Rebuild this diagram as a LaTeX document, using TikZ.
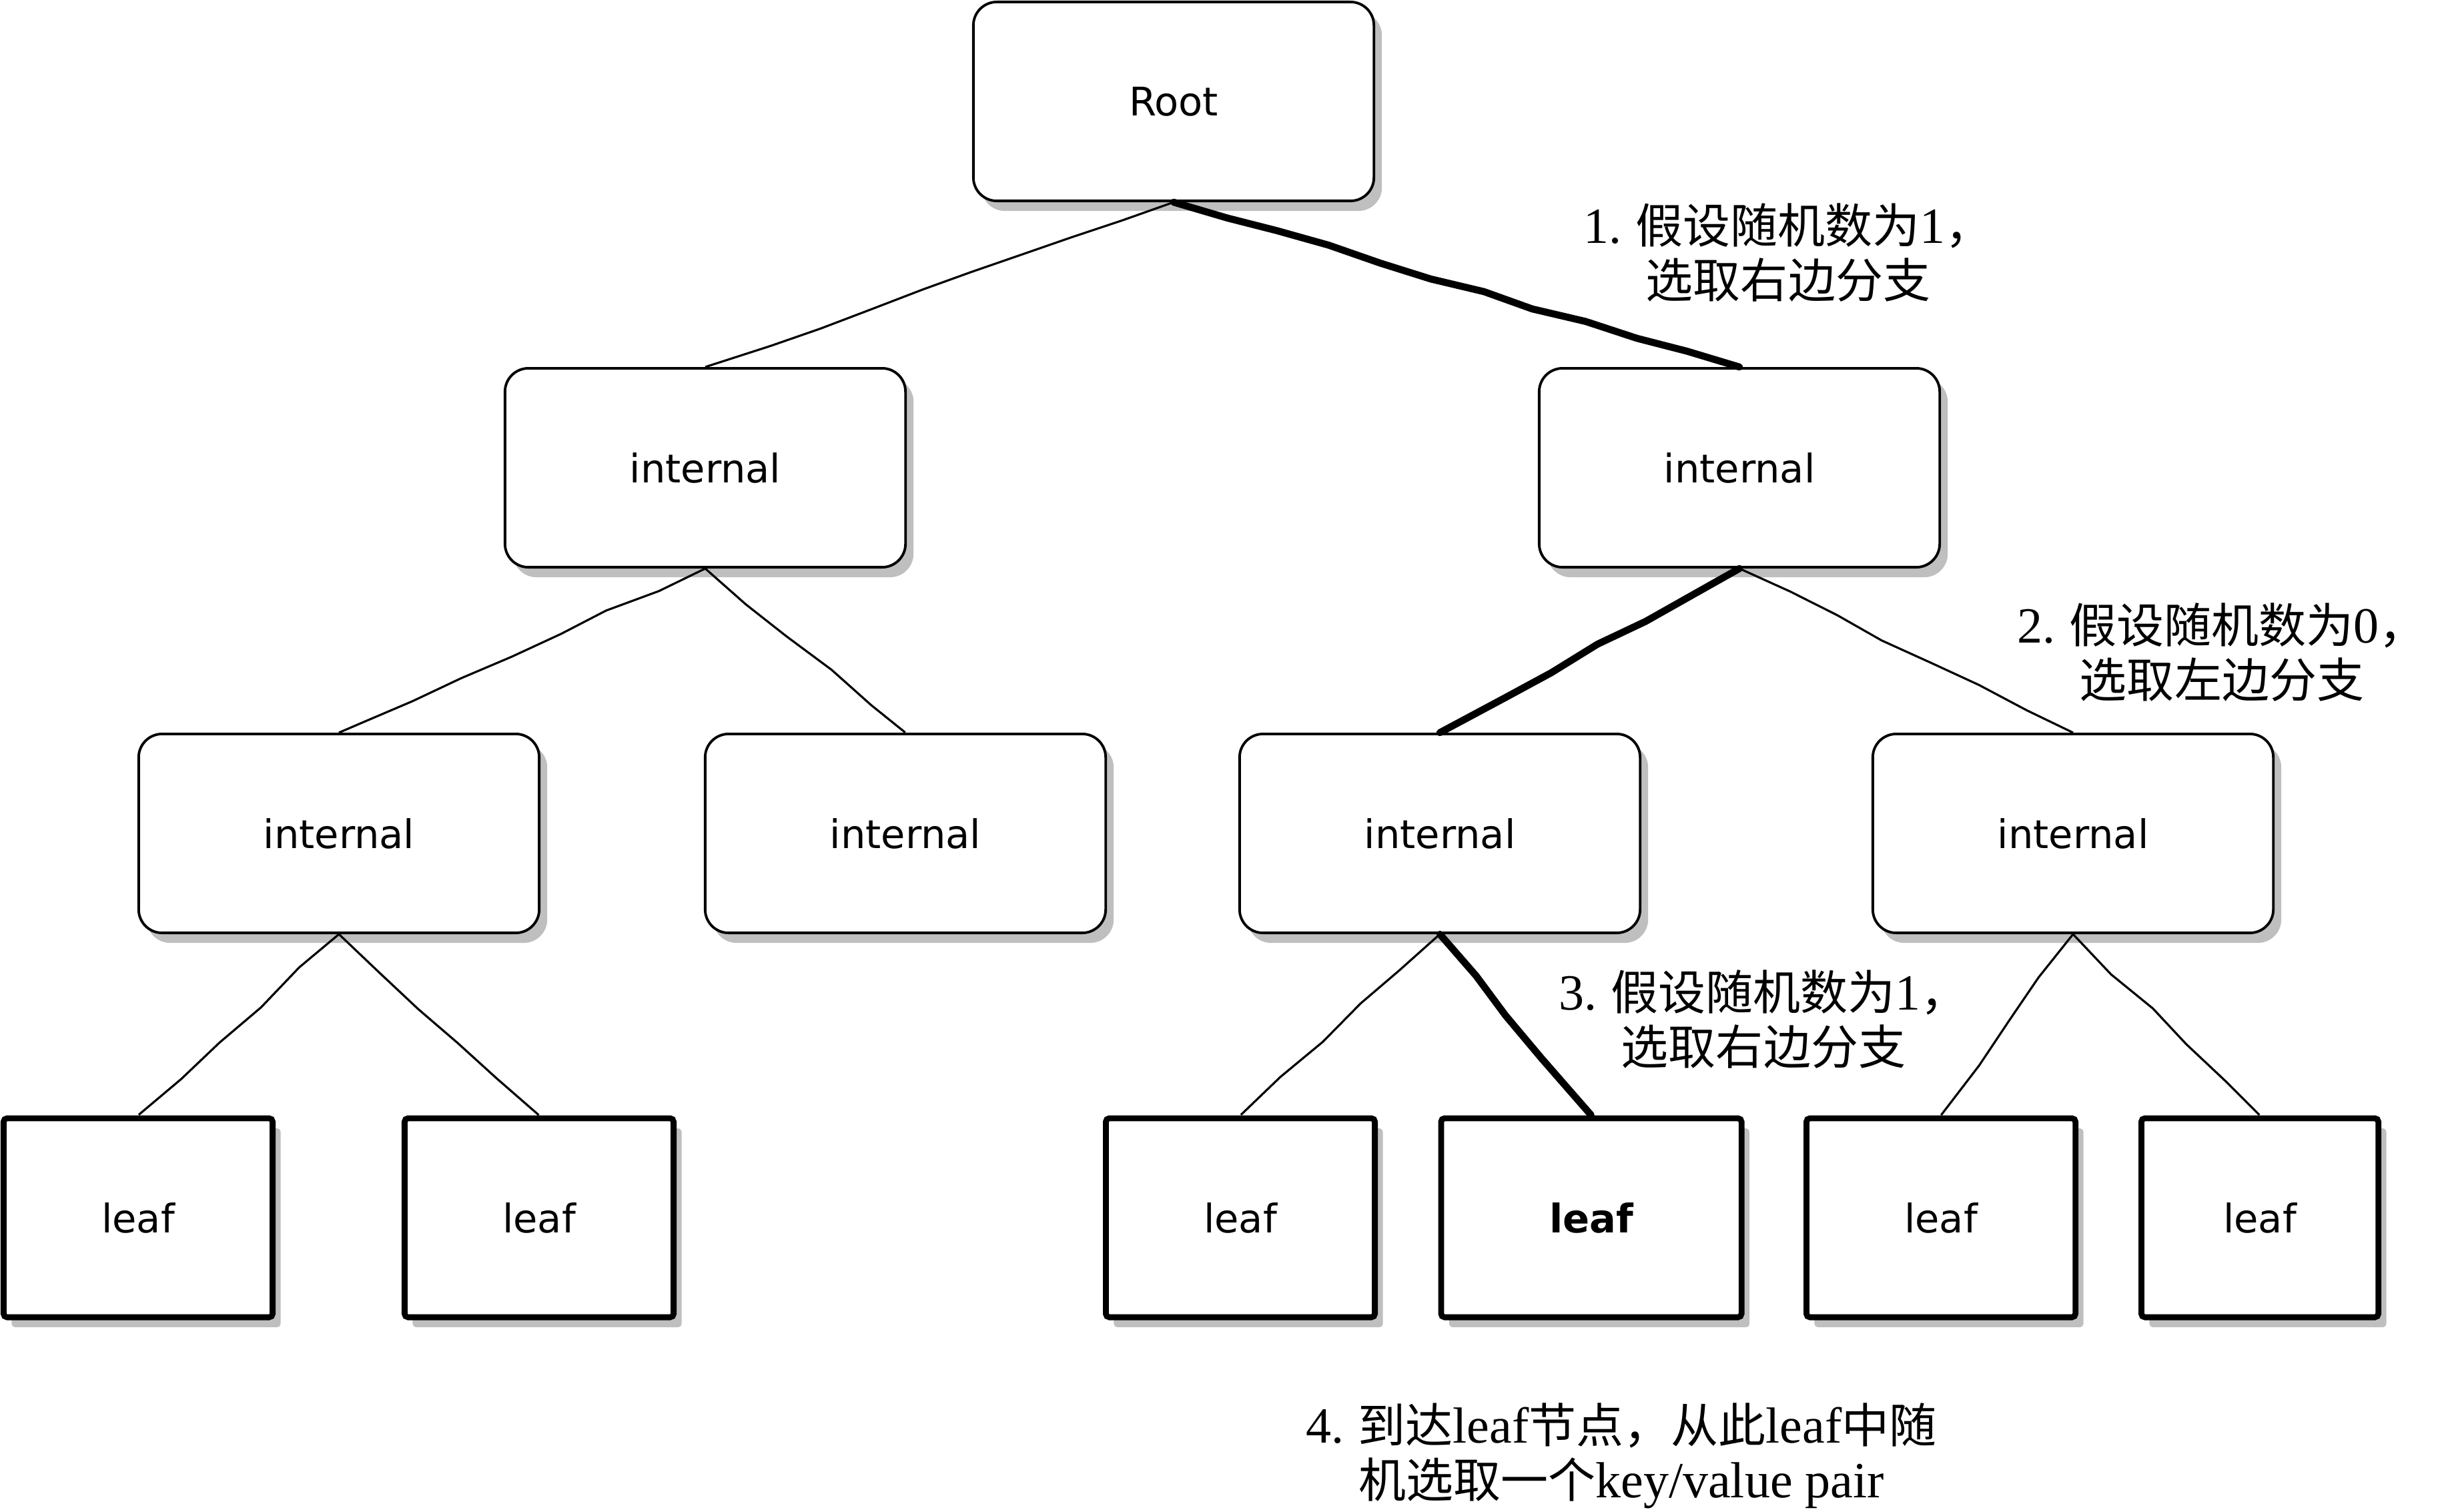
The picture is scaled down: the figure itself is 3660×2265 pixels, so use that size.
\documentclass[tikz,border=0pt]{standalone}
\usepackage{fontspec}
\setmainfont{DejaVu Sans}
\newfontfamily\cjk{Noto Sans CJK SC}
\newfontfamily\lat[Scale=1.07]{Liberation Serif}
\usetikzlibrary{shadows,decorations.pathmorphing}

\begin{document}
\begin{tikzpicture}[
  x=0.01cm, y=-0.01cm,
  sketch/.style={decorate,decoration={random steps,segment length=0.8cm,amplitude=1.1pt}},
  shade/.style={drop shadow={shadow xshift=0.12cm,shadow yshift=-0.15cm,fill=black!25,opacity=1}},
  inbox/.style={draw,shade,rounded corners=10pt,line width=1.1pt,fill=white,
    minimum width=6cm,minimum height=2.98cm,font=\fontsize{16.8}{20}\selectfont},
  leafbox/.style={draw,shade,rounded corners=1.5pt,line width=2.5pt,fill=white,
    minimum width=4.03cm,minimum height=2.98cm,font=\fontsize{16.8}{20}\selectfont},
  link/.style={sketch,line width=0.9pt},
  chosen/.style={sketch,line width=3pt,line cap=round,line join=round},
  note/.style={align=center,font=\cjk\fontsize{20.2}{23.3}\selectfont}
]
\pgfmathsetseed{11}
\useasboundingbox (0,0) rectangle (3660,2265);

% tree nodes
\node[inbox] (root) at (1759,152) {Root};
\node[inbox] (inA) at (1057,701) {internal};
\node[inbox] (inB) at (2607,701) {internal};
\node[inbox] (inC) at (508,1249) {internal};
\node[inbox] (inD) at (1357,1249) {internal};
\node[inbox] (inE) at (2158,1249) {internal};
\node[inbox] (inF) at (3107,1249) {internal};

\node[leafbox] (lfA) at (207,1825) {leaf};
\node[leafbox] (lfB) at (808,1825) {leaf};
\node[leafbox] (lfC) at (1859,1825) {leaf};
\node[leafbox,minimum width=4.5cm,font=\fontsize{16.8}{20}\selectfont\bfseries] (lfD) at (2385,1825) {leaf};
\node[leafbox] (lfE) at (2909,1825) {leaf};
\node[leafbox,minimum width=3.55cm] (lfF) at (3387,1825) {leaf};

% branches
\draw[link] (root.south) -- (inA.north);
\draw[chosen] (root.south) -- (inB.north);
\draw[link] (inA.south) -- (inC.north);
\draw[link] (inA.south) -- (inD.north);
\draw[chosen] (inB.south) -- (inE.north);
\draw[link] (inB.south) -- (inF.north);
\draw[link] (inC.south) -- (lfA.north);
\draw[link] (inC.south) -- (lfB.north);
\draw[link] (inE.south) -- (lfC.north);
\draw[chosen] (inE.south) -- (lfD.north);
\draw[link] (inF.south) -- (lfE.north);
\draw[link] (inF.south) -- (lfF.north);

% notes
\node[note] (stepA) at (2680,379) {{\lat 1.} 假设随机数为{\lat 1}，\\选取右边分支};
\node[note] (stepB) at (3330,978) {{\lat 2.} 假设随机数为{\lat 0}，\\选取左边分支};
\node[note] (stepC) at (2643,1528) {{\lat 3.} 假设随机数为{\lat 1}，\\选取右边分支};
\node[note] (stepD) at (2430,2182) {{\lat 4.} 到达{\lat leaf}节点，从此{\lat leaf}中随\\机选取一个{\lat key/value pair}};
\end{tikzpicture}
\end{document}
